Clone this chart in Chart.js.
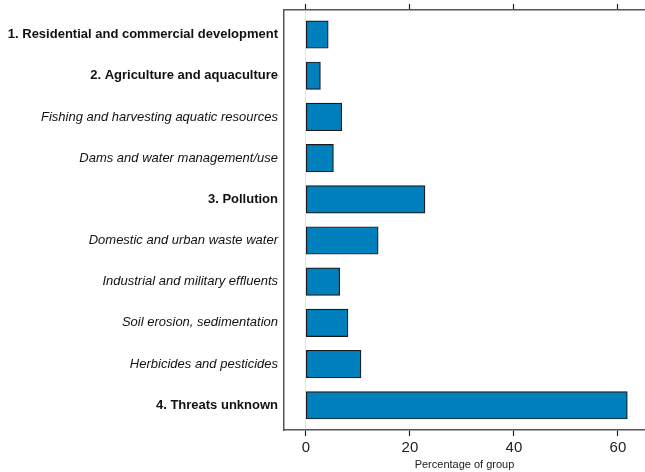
<!DOCTYPE html>
<html>
<head>
<meta charset="utf-8">
<script src="https://cdn.jsdelivr.net/npm/chart.js@4/dist/chart.umd.min.js"></script>
<style>
html,body{margin:0;padding:0;background:#fff;}
#wrap{width:645px;height:472px;position:relative;}
</style>
</head>
<body>
<div id="wrap"><canvas id="c" width="645" height="472"></canvas></div>
<script>
const categories = [
  "1. Residential and commercial development",
  "2. Agriculture and aquaculture",
  "Fishing and harvesting aquatic resources",
  "Dams and water management/use",
  "3. Pollution",
  "Domestic and urban waste water",
  "Industrial and military effluents",
  "Soil erosion, sedimentation",
  "Herbicides and pesticides",
  "4. Threats unknown"
];
const isMain = [true, true, false, false, true, false, false, false, false, true];
const percentages = [4.3, 2.8, 6.9, 5.3, 22.9, 13.9, 6.5, 8.1, 10.6, 61.8];
const xTicks = [0, 20, 40, 60];
const xTitle = "Percentage of group";

const FONT = "'Liberation Sans', Arial, Helvetica, sans-serif";
const points = percentages.map((v, i) => ({x: v, y: i}));

new Chart(document.getElementById('c'), {
  type: 'bar',
  data: {
    datasets: [{
      data: points,
      backgroundColor: '#0081BD',
      borderColor: '#1a1a1a',
      borderWidth: 1.2,
      borderSkipped: false,
      barThickness: 27.5
    }]
  },
  options: {
    indexAxis: 'y',
    responsive: false,
    animation: false,
    layout: {padding: 0},
    plugins: {legend: {display: false}, tooltip: {enabled: false}},
    scales: {
      x: {
        type: 'linear',
        position: 'bottom',
        min: -4.2,
        max: 65.2,
        afterBuildTicks: s => { s.ticks = xTicks.map(v => ({value: v})); },
        afterFit: s => { s.height = 42; },
        border: {display: true, color: '#555', width: 1.5},
        grid: {
          display: true,
          drawOnChartArea: true,
          drawTicks: true,
          tickLength: 6,
          color: c => (c.tick && c.tick.value === 0) ? '#e3e3e3' : 'rgba(0,0,0,0)',
          tickColor: '#222',
          lineWidth: 1,
          tickWidth: 1.2
        },
        ticks: {
          color: '#222',
          font: {family: FONT, size: 15},
          padding: 3,
          maxRotation: 0
        },
        title: {
          display: true,
          text: xTitle,
          color: '#222',
          font: {family: FONT, size: 11},
          padding: {top: 0, bottom: 0}
        }
      },
      x2: {
        type: 'linear',
        position: 'top',
        min: -4.2,
        max: 65.2,
        afterBuildTicks: s => { s.ticks = xTicks.map(v => ({value: v})); },
        afterFit: s => { s.height = 10; },
        border: {display: true, color: '#555', width: 1.5},
        grid: {
          display: true,
          drawOnChartArea: false,
          drawTicks: true,
          tickLength: 6,
          color: '#222',
          tickColor: '#222',
          tickWidth: 1.2
        },
        ticks: {display: false}
      },
      y: {
        type: 'linear',
        reverse: true,
        offset: false,
        min: -0.595,
        max: 9.6,
        afterBuildTicks: s => { s.ticks = categories.map((_, i) => ({value: i})); },
        afterFit: s => { s.width = 284; s.paddingTop = 0; s.paddingBottom = 0; },
        border: {display: true, color: '#555', width: 1.5},
        grid: {display: false, drawTicks: false, offset: false},
        ticks: {
          color: '#111',
          padding: 6,
          autoSkip: false,
          callback: v => categories[v],
          font: c => ({
            family: FONT,
            size: 13,
            weight: isMain[c.index] ? 'bold' : 'normal',
            style: isMain[c.index] ? 'normal' : 'italic'
          })
        }
      }
    }
  }
});
</script>
</body>
</html>
